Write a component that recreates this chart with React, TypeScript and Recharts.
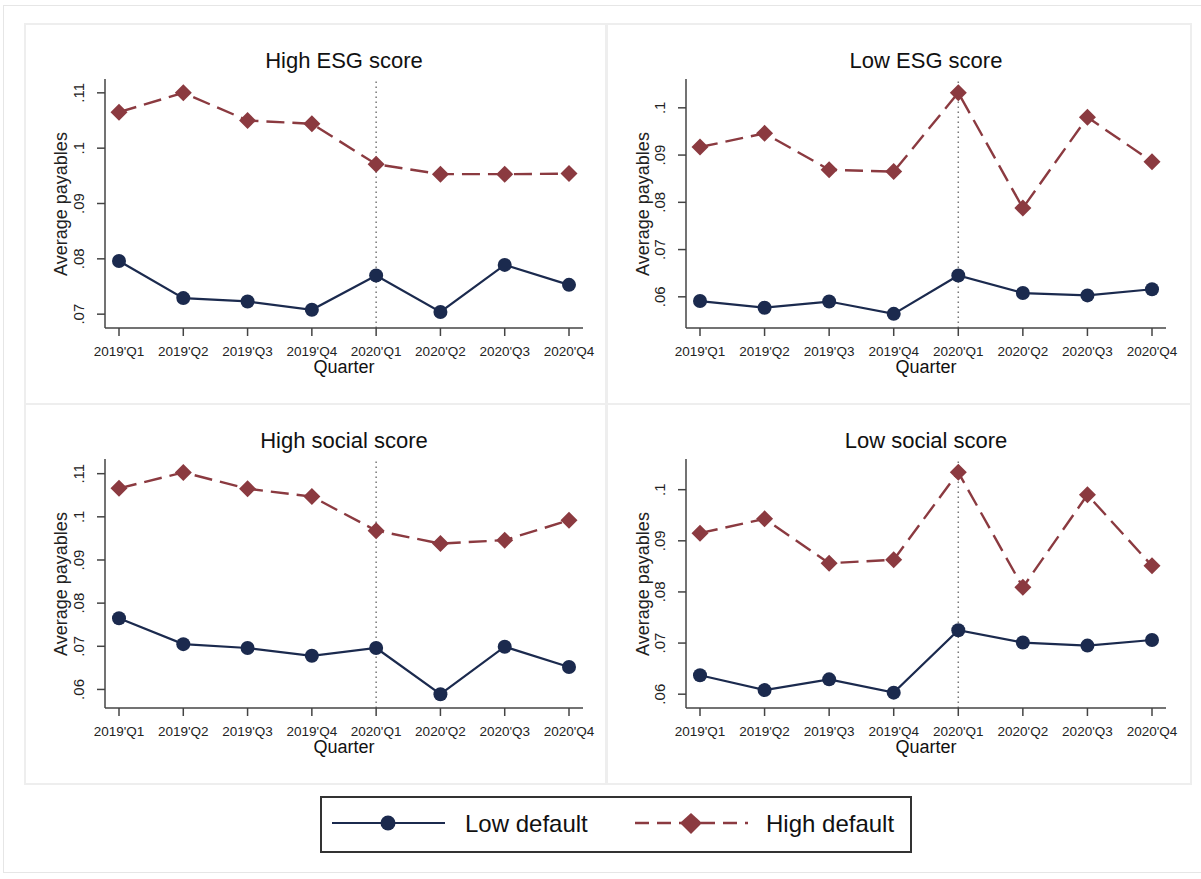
import { LineChart, Line, XAxis, YAxis, ReferenceLine } from 'recharts'

const quarters = ["2019'Q1", "2019'Q2", "2019'Q3", "2019'Q4", "2020'Q1", "2020'Q2", "2020'Q3", "2020'Q4"]

// High ESG score
const highEsgLow = [0.0796, 0.0729, 0.0723, 0.0708, 0.077, 0.0704, 0.0789, 0.0753]
const highEsgHigh = [0.1065, 0.11, 0.105, 0.1044, 0.0971, 0.0953, 0.0953, 0.0954]
// Low ESG score
const lowEsgLow = [0.0591, 0.0577, 0.059, 0.0564, 0.0645, 0.0608, 0.0603, 0.0616]
const lowEsgHigh = [0.0917, 0.0946, 0.0869, 0.0865, 0.1032, 0.0788, 0.098, 0.0886]
// High social score
const highSocLow = [0.0765, 0.0705, 0.0696, 0.0678, 0.0696, 0.0589, 0.0699, 0.0652]
const highSocHigh = [0.1066, 0.1103, 0.1065, 0.1047, 0.0968, 0.0938, 0.0946, 0.0992]
// Low social score
const lowSocLow = [0.0637, 0.0608, 0.0629, 0.0603, 0.0725, 0.0701, 0.0695, 0.0706]
const lowSocHigh = [0.0915, 0.0943, 0.0856, 0.0863, 0.1034, 0.0809, 0.099, 0.0851]

const ticksTo11 = [0.07, 0.08, 0.09, 0.1, 0.11]
const ticks06To11 = [0.06, 0.07, 0.08, 0.09, 0.1, 0.11]
const ticks06To10 = [0.06, 0.07, 0.08, 0.09, 0.1]

const navy = '#1b2a4e'
const maroon = '#8b3a40'
const axisColor = '#444'
const font = "'Liberation Sans', Arial, sans-serif"

const fmt = (v: number) => v.toFixed(2).replace(/^0/, '').replace(/0$/, '')

function YTick(props: any) {
  const { x, y, payload } = props
  return (
    <text
      x={x}
      y={y}
      transform={`rotate(-90 ${x} ${y})`}
      textAnchor="middle"
      fontSize={15}
      fill="#222"
      fontFamily={font}
    >
      {fmt(payload.value)}
    </text>
  )
}

function Diamond(props: any) {
  const { cx, cy, index } = props
  if (cx == null || cy == null) return <g key={index} />
  const s = 8.5
  return (
    <path
      key={index}
      d={`M${cx},${cy - s}L${cx + s},${cy}L${cx},${cy + s}L${cx - s},${cy}Z`}
      fill={maroon}
    />
  )
}

interface PanelProps {
  title: string
  low: number[]
  high: number[]
  domain: [number, number]
  ticks: number[]
  left: number
  top: number
  width: number
  yWidth: number
  right: number
}

function Panel({ title, low, high, domain, ticks, left, top, width, yWidth, right }: PanelProps) {
  const height = 378
  const data = quarters.map((q, i) => ({ quarter: q, low: low[i], high: high[i] }))
  const plotW = width - yWidth - right
  return (
    <div
      style={{
        position: 'absolute',
        left,
        top,
        width,
        height,
        background: '#fff',
        boxShadow: '0 0 0 2px #eeeeee',
      }}
    >
      <div
        style={{
          position: 'absolute',
          left: yWidth,
          width: plotW,
          top: 23,
          textAlign: 'center',
          fontSize: 22,
          lineHeight: '26px',
          color: '#111',
          fontFamily: font,
        }}
      >
        {title}
      </div>
      <div
        style={{
          position: 'absolute',
          left: yWidth,
          width: plotW,
          top: 331,
          textAlign: 'center',
          fontSize: 18,
          lineHeight: '22px',
          color: '#111',
          fontFamily: font,
        }}
      >
        Quarter
      </div>
      <div
        style={{
          position: 'absolute',
          left: 35 - 100,
          top: 54 + 249 / 2 - 11,
          width: 200,
          textAlign: 'center',
          fontSize: 18,
          lineHeight: '22px',
          color: '#222',
          fontFamily: font,
          transform: 'rotate(-90deg)',
        }}
      >
        Average payables
      </div>
      <LineChart
        width={width}
        height={height}
        data={data}
        margin={{ top: 54, right, left: 0, bottom: 0 }}
        style={{ position: 'absolute', left: 0, top: 0 }}
      >
        <XAxis
          dataKey="quarter"
          interval={0}
          height={75}
          padding={{ left: 14, right: 14 }}
          tickSize={8}
          tickMargin={10}
          tick={{ fontSize: 13.5, fill: '#222', fontFamily: font }}
          axisLine={{ stroke: axisColor, strokeWidth: 1.5 }}
          tickLine={{ stroke: axisColor, strokeWidth: 1.5 }}
        />
        <YAxis
          width={yWidth}
          domain={domain}
          ticks={ticks}
          type="number"
          allowDataOverflow
          tickSize={8}
          tickMargin={13}
          tick={<YTick />}
          axisLine={{ stroke: axisColor, strokeWidth: 1.5 }}
          tickLine={{ stroke: axisColor, strokeWidth: 1.5 }}
        />
        <ReferenceLine x="2020'Q1" stroke="#777" strokeWidth={1.5} strokeDasharray="1.5 3.5" />
        <Line
          dataKey="low"
          stroke={navy}
          strokeWidth={2.2}
          dot={{ r: 7, fill: navy, stroke: navy, strokeWidth: 0 }}
          activeDot={false}
          isAnimationActive={false}
        />
        <Line
          dataKey="high"
          stroke={maroon}
          strokeWidth={2.4}
          strokeDasharray="18 8"
          dot={<Diamond />}
          activeDot={false}
          isAnimationActive={false}
        />
      </LineChart>
    </div>
  )
}

function Legend() {
  return (
    <div
      style={{
        position: 'absolute',
        left: 320,
        top: 796,
        width: 592,
        height: 57,
        boxSizing: 'border-box',
        border: '2px solid #333',
        background: '#fff',
        fontFamily: font,
      }}
    >
      <svg width={588} height={53} style={{ position: 'absolute', left: 0, top: 0 }}>
        <line x1={10} y1={25} x2={123} y2={25} stroke={navy} strokeWidth={2.2} />
        <circle cx={66} cy={25} r={7.5} fill={navy} />
        <line x1={313} y1={25} x2={426} y2={25} stroke={maroon} strokeWidth={2.4} strokeDasharray="14 8" />
        <path d="M369,15L380,25L369,36L358,25Z" fill={maroon} />
      </svg>
      <div style={{ position: 'absolute', left: 143, top: 12, fontSize: 24, lineHeight: '28px', color: '#111' }}>
        Low default
      </div>
      <div style={{ position: 'absolute', left: 444, top: 12, fontSize: 24, lineHeight: '28px', color: '#111' }}>
        High default
      </div>
    </div>
  )
}

export default function App() {
  return (
    <div
      style={{
        position: 'absolute',
        left: 0,
        top: 0,
        width: 1201,
        height: 879,
        background: '#fff',
        overflow: 'hidden',
      }}
    >
      <div
        style={{
          position: 'absolute',
          left: 3,
          top: 5,
          width: 1200,
          height: 866,
          border: '1px solid #e6e6e6',
          background: '#fff',
        }}
      />
      <Panel title="High ESG score" low={highEsgLow} high={highEsgHigh} domain={[0.0675, 0.1125]} ticks={ticksTo11}
        left={26} top={25} width={579} yWidth={79} right={22} />
      <Panel title="Low ESG score" low={lowEsgLow} high={lowEsgHigh} domain={[0.0534, 0.1061]} ticks={ticks06To10}
        left={608} top={25} width={582} yWidth={78} right={24} />
      <Panel title="High social score" low={highSocLow} high={highSocHigh} domain={[0.0557, 0.1134]} ticks={ticks06To11}
        left={26} top={405} width={579} yWidth={79} right={22} />
      <Panel title="Low social score" low={lowSocLow} high={lowSocHigh} domain={[0.0573, 0.106]} ticks={ticks06To10}
        left={608} top={405} width={582} yWidth={78} right={24} />
      <Legend />
    </div>
  )
}
